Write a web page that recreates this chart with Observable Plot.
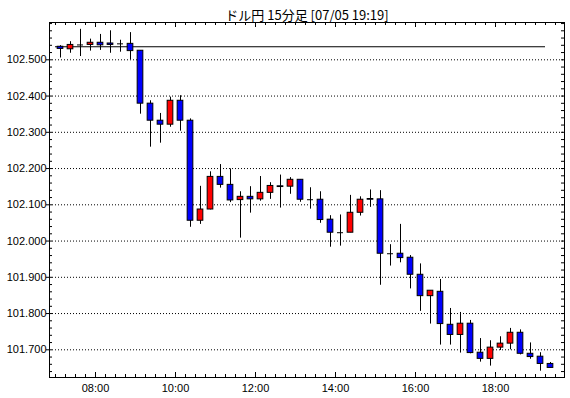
<!DOCTYPE html>
<html><head><meta charset="utf-8">
<script src="https://cdn.jsdelivr.net/npm/d3@7"></script>
<script src="https://cdn.jsdelivr.net/npm/@observablehq/plot@0.6"></script>
<style>body{margin:0;background:#fff}</style>
</head><body><div id="chart"></div>
<script>
const title = "ドル円 15分足 [07/05 19:19]";
const times = ["07:00","07:15","07:30","07:45","08:00","08:15","08:30","08:45","09:00","09:15",
  "09:30","09:45","10:00","10:15","10:30","10:45","11:00","11:15","11:30","11:45",
  "12:00","12:15","12:30","12:45","13:00","13:15","13:30","13:45","14:00","14:15",
  "14:30","14:45","15:00","15:15","15:30","15:45","16:00","16:15","16:30","16:45",
  "17:00","17:15","17:30","17:45","18:00","18:15","18:30","18:45","19:00","19:15"];
const opens = [102.536,102.529,102.541,102.541,102.547,102.545,102.544,102.544,102.525,102.379,
  102.332,102.321,102.387,102.332,102.056,102.087,102.177,102.155,102.113,102.122,
  102.115,102.133,102.151,102.150,102.169,102.114,102.114,102.059,102.023,102.023,
  102.078,102.116,102.115,101.965,101.965,101.954,101.907,101.848,101.860,101.769,
  101.741,101.772,101.692,101.675,101.706,101.717,101.747,101.689,101.681,101.661];
const highs = [102.539,102.550,102.584,102.557,102.570,102.580,102.554,102.575,102.525,102.387,
  102.352,102.397,102.401,102.337,102.151,102.191,102.211,102.199,102.136,102.150,
  102.178,102.161,102.182,102.175,102.169,102.147,102.136,102.070,102.072,102.126,
  102.122,102.141,102.139,101.990,102.046,101.960,101.937,101.863,101.894,101.814,
  101.803,101.781,101.731,101.725,101.736,101.759,101.755,101.719,101.692,101.665];
const lows = [102.505,102.518,102.509,102.524,102.526,102.518,102.521,102.500,102.350,102.259,
  102.270,102.314,102.303,102.038,102.046,102.086,102.146,102.106,102.008,102.077,
  102.110,102.115,102.091,102.129,102.107,102.088,102.049,101.983,101.986,102.023,
  102.069,102.093,101.878,101.931,101.940,101.868,101.806,101.771,101.713,101.713,
  101.691,101.689,101.666,101.655,101.698,101.700,101.686,101.674,101.641,101.650];
const closes = [102.530,102.541,102.541,102.547,102.540,102.541,102.544,102.524,102.379,102.332,
  102.321,102.387,102.332,102.056,102.087,102.177,102.155,102.112,102.122,102.115,
  102.133,102.152,102.149,102.169,102.114,102.114,102.058,102.023,102.023,102.078,
  102.114,102.114,101.965,101.965,101.953,101.907,101.848,101.863,101.771,101.741,
  101.772,101.691,101.675,101.706,101.717,101.747,101.689,101.680,101.661,101.650];
const refLevel = 102.536;
const yTickValues = [101.7,101.8,101.9,102.0,102.1,102.2,102.3,102.4,102.5];
const xTickLabels = ["08:00","10:00","12:00","14:00","16:00","18:00"];

const parse = s => new Date(`2013-07-05T${s}:00Z`);
const addMin = (d, m) => new Date(+d + m * 60000);
const candles = times.map((t, i) => ({
  t: parse(t), open: opens[i], high: highs[i], low: lows[i], close: closes[i]
}));
const bodies = candles.filter(d => d.open !== d.close);
const dojis = candles.filter(d => d.open === d.close);
const xTicks = xTickLabels.map(parse);
const minorX = d3.utcMinute.every(15).range(parse("07:00"), parse("19:45"));
const minorY = d3.range(0, 49).map(k => +(101.64 + 0.02 * k).toFixed(2));

const W = 570, H = 398, mL = 49, mR = 6, mT = 22, mB = 21;
const fW = W - mL - mR, fH = H - mT - mB;

const chart = Plot.plot({
  width: W, height: H,
  marginLeft: mL, marginRight: mR, marginTop: mT, marginBottom: mB,
  style: {fontFamily: "'Liberation Sans', Arial, sans-serif", fontSize: "11px", background: "#fff", color: "#000"},
  x: {type: "utc", domain: [parse("06:51"), new Date(+parse("19:43") + 30000)]},
  y: {domain: [101.6236, 102.6029]},
  marks: [
    Plot.ruleY(yTickValues, {stroke: "#000", strokeDasharray: "1,2"}),
    Plot.ruleY([refLevel], {x1: () => candles[0].t, x2: () => candles[candles.length - 1].t, stroke: "#000"}),
    Plot.ruleX(candles, {x: d => addMin(d.t, 7.5), y1: "low", y2: "high", stroke: "#000", strokeWidth: 1}),
    Plot.rect(bodies, {
      x1: d => addMin(d.t, 3.25), x2: d => addMin(d.t, 11.75),
      y1: "open", y2: "close",
      fill: d => d.close > d.open ? "#ff0000" : "#0000ff",
      stroke: "#000", strokeWidth: 1
    }),
    Plot.ruleY(dojis, {y: "close", x1: d => addMin(d.t, 3), x2: d => addMin(d.t, 12), stroke: "#000"}),
    Plot.ruleX(minorX, {insetTop: fH - 3, stroke: "#000"}),
    Plot.ruleX(xTicks, {insetTop: fH - 5, stroke: "#000"}),
    Plot.ruleX(minorX, {insetBottom: fH - 3, stroke: "#000"}),
    Plot.ruleX(xTicks, {insetBottom: fH - 5, stroke: "#000"}),
    Plot.ruleY(minorY, {insetRight: fW - 3, stroke: "#000"}),
    Plot.ruleY(minorY, {insetLeft: fW - 3, stroke: "#000"}),
    Plot.axisY({ticks: yTickValues, tickFormat: d3.format(".3f"), tickSize: 3, tickPadding: 0, label: null}),
    Plot.axisX({ticks: xTicks, tickFormat: d3.utcFormat("%H:%M"), tickSize: 0, tickPadding: 7, label: null}),
    Plot.frame({stroke: "#000"}),
    Plot.text([title], {frameAnchor: "top", dy: -12, fontSize: 13, fontFamily: "'Noto Sans CJK JP', sans-serif", fill: "#000"})
  ]
});
document.getElementById("chart").appendChild(chart);
</script>
</body></html>
